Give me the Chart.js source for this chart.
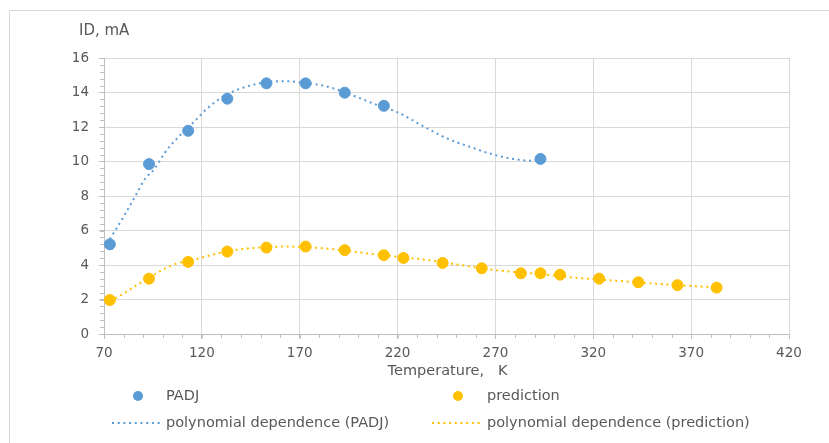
<!DOCTYPE html>
<html>
<head>
<meta charset="utf-8">
<script src="https://cdn.jsdelivr.net/npm/chart.js@4/dist/chart.umd.min.js"></script>
<style>
  html, body { margin: 0; padding: 0; background: #fff; }
  #wrap { width: 829px; height: 443px; position: relative; }
</style>
</head>
<body>
<div id="wrap"><canvas id="c" width="829" height="443"></canvas></div>
<script>
// measured points
const padjT = [73, 93, 113, 133, 153, 173, 193, 213, 293];
const padjI = [5.2, 9.85, 11.78, 13.64, 14.53, 14.53, 13.99, 13.23, 10.15];

const predT = [73, 93, 113, 133, 153, 173, 193, 213, 223, 243, 263, 283, 293, 303, 323, 343, 363, 383];
const predI = [1.97, 3.21, 4.18, 4.78, 5.01, 5.07, 4.86, 4.57, 4.41, 4.12, 3.81, 3.52, 3.52, 3.44, 3.21, 3.0, 2.83, 2.69];

// polynomial trend lines
const padjFitT = [73, 80, 86, 91, 96, 101, 107, 116, 122, 130, 139, 153, 163, 173, 180, 187, 199, 209, 220, 233, 245, 257, 269, 279, 288, 293];
const padjFitI = [5.5, 6.8, 8.0, 9.0, 9.6, 10.5, 11.3, 12.3, 13.0, 13.7, 14.2, 14.6, 14.65, 14.55, 14.45, 14.25, 13.75, 13.3, 12.85, 12.05, 11.35, 10.85, 10.4, 10.15, 10.05, 10.1];

const predFitT = [73, 77, 87, 98, 105, 119, 129, 143, 163, 182, 201, 218, 233, 252, 272, 293, 313, 334, 354, 375, 383];
const predFitI = [1.95, 2.15, 2.85, 3.6, 4.0, 4.4, 4.7, 4.95, 5.07, 4.97, 4.72, 4.5, 4.32, 4.0, 3.68, 3.47, 3.24, 3.07, 2.9, 2.75, 2.7];

const xTicks = [70, 120, 170, 220, 270, 320, 370, 420];
const yTicks = [0, 2, 4, 6, 8, 10, 12, 14, 16];

const blue = "#5B9BD5";
const orange = "#FFC000";
const textColor = "#595959";
const gridColor = "#d9d9d9";
const axisColor = "#bfbfbf";
const font = "DejaVu Sans";

function pts(xs, ys) {
    return xs.map(function (x, i) { return { x: x, y: ys[i] }; });
}

// frame, axis titles, minor ticks and a two-column legend
const extras = {
    id: "extras",
    beforeDraw(chart) {
        const ctx = chart.ctx;
        ctx.save();
        ctx.strokeStyle = gridColor;
        ctx.lineWidth = 1;
        ctx.beginPath();
        ctx.moveTo(9.5, 443);
        ctx.lineTo(9.5, 10.5);
        ctx.lineTo(829, 10.5);
        ctx.stroke();
        ctx.restore();
    },
    afterDraw(chart) {
        const ctx = chart.ctx;
        const xs = chart.scales.x;
        const ys = chart.scales.y;
        const area = chart.chartArea;
        ctx.save();

        // minor ticks
        ctx.strokeStyle = axisColor;
        ctx.lineWidth = 1;
        ctx.beginPath();
        for (let v = 0; v <= 16.001; v += 0.4) {
            const py = Math.round(ys.getPixelForValue(v)) + 0.5;
            ctx.moveTo(area.left - 4, py);
            ctx.lineTo(area.left, py);
        }
        for (let v = 70; v <= 420; v += 10) {
            const px = Math.round(xs.getPixelForValue(v)) + 0.5;
            ctx.moveTo(px, area.bottom);
            ctx.lineTo(px, area.bottom + 4);
        }
        ctx.stroke();

        ctx.fillStyle = textColor;
        ctx.textBaseline = "middle";
        ctx.textAlign = "left";
        ctx.font = "15px '" + font + "'";
        ctx.fillText("ID, mA", 79, 31);
        ctx.textAlign = "center";
        ctx.font = "14.5px '" + font + "'";
        ctx.fillText("Temperature,   K", (area.left + area.right) / 2 + 1, 371);

        // legend
        ctx.textAlign = "left";
        const rows = [396, 423];
        const items = [
            { col: 0, row: 0, kind: "dot", color: blue, text: "PADJ" },
            { col: 1, row: 0, kind: "dot", color: orange, text: "prediction" },
            { col: 0, row: 1, kind: "line", color: blue, text: "polynomial dependence (PADJ)" },
            { col: 1, row: 1, kind: "line", color: orange, text: "polynomial dependence (prediction)" }
        ];
        const cols = [{ sym: 112, text: 166 }, { sym: 432, text: 487 }];
        items.forEach(function (it) {
            const c = cols[it.col];
            const y = rows[it.row];
            if (it.kind === "dot") {
                ctx.fillStyle = it.color;
                ctx.beginPath();
                ctx.arc(c.sym + 26, y, 5, 0, Math.PI * 2);
                ctx.fill();
            } else {
                ctx.strokeStyle = it.color;
                ctx.lineWidth = 2;
                ctx.setLineDash([2, 3.7]);
                ctx.beginPath();
                ctx.moveTo(c.sym, y);
                ctx.lineTo(c.sym + 49, y);
                ctx.stroke();
                ctx.setLineDash([]);
            }
            ctx.fillStyle = textColor;
            ctx.fillText(it.text, c.text, y);
        });
        ctx.restore();
    }
};

new Chart(document.getElementById("c"), {
    type: "scatter",
    data: {
        datasets: [{
            label: "PADJ",
            data: pts(padjT, padjI),
            backgroundColor: blue,
            borderColor: blue,
            pointRadius: 5.5,
            pointHoverRadius: 5.5,
            order: 1
        }, {
            label: "prediction",
            data: pts(predT, predI),
            backgroundColor: orange,
            borderColor: orange,
            pointRadius: 5.5,
            pointHoverRadius: 5.5,
            order: 1
        }, {
            label: "polynomial dependence (PADJ)",
            type: "line",
            data: pts(padjFitT, padjFitI),
            borderColor: blue,
            borderWidth: 2,
            borderDash: [2, 3.7],
            pointRadius: 0,
            fill: false,
            cubicInterpolationMode: "monotone",
            order: 2
        }, {
            label: "polynomial dependence (prediction)",
            type: "line",
            data: pts(predFitT, predFitI),
            borderColor: orange,
            borderWidth: 2,
            borderDash: [2, 3.7],
            pointRadius: 0,
            fill: false,
            cubicInterpolationMode: "monotone",
            order: 2
        }]
    },
    options: {
        responsive: false,
        animation: false,
        layout: { padding: { left: 0, top: 58, right: 40, bottom: 79 } },
        plugins: {
            legend: { display: false },
            tooltip: { enabled: false }
        },
        scales: {
            x: {
                type: "linear",
                min: 70,
                max: 420,
                afterFit: function (s) { s.height = 30; },
                afterBuildTicks: function (s) { s.ticks = xTicks.map(function (v) { return { value: v }; }); },
                grid: { color: gridColor, tickColor: axisColor, tickLength: 5 },
                border: { color: axisColor },
                ticks: { color: textColor, padding: 6, font: { family: font, size: 13.5 }, maxRotation: 0 }
            },
            y: {
                min: 0,
                max: 16,
                afterFit: function (s) { s.width = 104; },
                afterBuildTicks: function (s) { s.ticks = yTicks.map(function (v) { return { value: v }; }); },
                grid: { color: gridColor, tickColor: axisColor, tickLength: 5 },
                border: { color: axisColor },
                ticks: { color: textColor, padding: 10, font: { family: font, size: 13.5 } }
            }
        }
    },
    plugins: [extras]
});
</script>
</body>
</html>
